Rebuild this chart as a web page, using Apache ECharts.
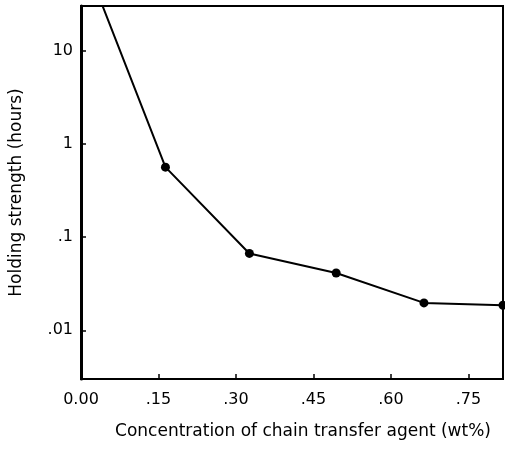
<!DOCTYPE html>
<html>
<head>
<meta charset="utf-8">
<script src="https://cdn.jsdelivr.net/npm/echarts@6/dist/echarts.min.js"></script>
<style>html,body{margin:0;padding:0;background:#fff}#c{width:505px;height:450px}</style>
</head>
<body>
<div id="c"></div>
<script>
// Data
var concentration = [0.0, 0.1635, 0.326, 0.494, 0.664, 0.817];
var holdingHours = [120, 0.566, 0.067, 0.0413, 0.0197, 0.0186];
var xTickLabels = {"0": "0.00", "0.15": ".15", "0.3": ".30", "0.45": ".45", "0.6": ".60", "0.75": ".75"};
var yTickLabels = {"10": "10", "1": "1", "0.1": ".1", "0.01": ".01"};
var xTitle = "Concentration of chain transfer agent (wt%)";
var yTitle = "Holding strength (hours)";

var pts = concentration.map(function (x, i) {
  var d = {value: [x, holdingHours[i]]};
  if (i === 0) d.symbol = 'none';
  return d;
});

var font = "'DejaVu Sans', Arial, sans-serif";
var chart = echarts.init(document.getElementById('c'), null, {renderer: 'canvas'});
chart.setOption({
  animation: false,
  backgroundColor: '#fff',
  grid: {left: 78, right: 2, top: 6, bottom: 71, show: true, borderColor: '#000', borderWidth: 2, backgroundColor: 'transparent'},
  xAxis: {
    type: 'value', min: 0, max: 0.817, interval: 0.15,
    name: xTitle, nameLocation: 'middle', nameGap: 44,
    nameTextStyle: {fontFamily: font, fontSize: 17, color: '#000', padding: [0, 0, 0, 22]},
    axisLine: {show: true, lineStyle: {color: '#000', width: 2}},
    axisTick: {show: true, inside: true, length: 5, lineStyle: {color: '#000', width: 1.5}},
    axisLabel: {fontFamily: font, fontSize: 16, color: '#000', margin: 13, showMaxLabel: false,
      formatter: function (v) { var k = String(+v.toFixed(2)); return xTickLabels[k] !== undefined ? xTickLabels[k] : ''; }},
    splitLine: {show: false}
  },
  yAxis: {
    type: 'log', logBase: 10, min: 0.003, max: 30.5,
    name: yTitle, nameLocation: 'middle', nameGap: 56,
    nameTextStyle: {fontFamily: font, fontSize: 17, color: '#000', padding: [0, 0, 0, 0]},
    axisLine: {show: true, lineStyle: {color: '#000', width: 3}},
    axisTick: {show: true, inside: true, length: 5, lineStyle: {color: '#000', width: 1.5}},
    minorTick: {show: false},
    axisLabel: {fontFamily: font, fontSize: 16, color: '#000', margin: 8, showMinLabel: false, showMaxLabel: false,
      formatter: function (v) { var k = String(+(+v).toPrecision(3)); return yTickLabels[k] !== undefined ? yTickLabels[k] : ''; }},
    splitLine: {show: false}
  },
  series: [{
    type: 'line', data: pts, clip: true,
    symbol: 'circle', symbolSize: 9,
    itemStyle: {color: '#000'},
    lineStyle: {color: '#000', width: 2}
  }]
});
</script>
</body>
</html>
